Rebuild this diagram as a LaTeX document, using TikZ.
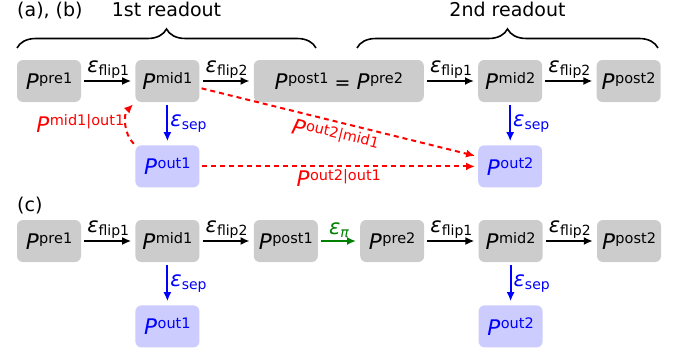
\documentclass[tikz,border=0pt]{standalone}
\usepackage{fontspec}
\setmainfont{DejaVu Sans}
\usetikzlibrary{positioning, arrows.meta, decorations.pathreplacing}
\definecolor{boxgray}{RGB}{204,204,204}
\definecolor{outblue}{RGB}{204,204,255}
\definecolor{pigreen}{RGB}{0,128,0}
\newcommand{\Pst}[1]{{\fontsize{21.5}{24}\selectfont\textit{P}}\kern0.5pt\raisebox{6.5pt}{\fontsize{14.5}{15}\selectfont #1}}
\newcommand{\Eps}[1]{{\fontsize{21}{24}\selectfont\textit{ε}}\raisebox{-3pt}{\fontsize{14}{15}\selectfont #1}}

\tikzset{
  state/.style={rectangle, rounded corners=6pt, fill=boxgray, minimum width=64pt, minimum height=42pt, inner sep=0pt},
  outstate/.style={state, fill=outblue, text=blue},
  flow/.style={-{Latex[length=9pt, width=8pt]}, line width=2pt, shorten <=3pt, shorten >=4pt},
  sepflow/.style={flow, blue},
  cond/.style={-{Latex[length=9pt, width=8pt]}, red, line width=2pt, dash pattern=on 5pt off 4pt, shorten <=2pt, shorten >=3pt},
  readout/.style={decorate, decoration={brace, amplitude=19pt}, line width=1.6pt},
  arrlabel/.style={above, inner sep=2pt},
}

\begin{document}
\begin{tikzpicture}[x=1pt, y=1pt, node distance=54pt,
  every node/.style={font=\fontsize{19}{22}\selectfont}]
\useasboundingbox (0,0) rectangle (693,349);

% (a), (b): two readouts
\node[anchor=base west, inner sep=0pt] (labab) at (17,332) {(a), (b)};
\node[anchor=base, inner sep=0pt] (first) at (166.5,332) {1st readout};
\node[anchor=base, inner sep=0pt] (second) at (507.5,332) {2nd readout};
\draw[readout] (17,301) -- (316,301);
\draw[readout] (357,301) -- (658,301);

\node[state] (pre1) at (49,268) {\Pst{pre1}};
\node[state, right=of pre1] (mid1) {\Pst{mid1}};
\node[state, right=of mid1, minimum width=170pt] (post1) {\Pst{post1} = \Pst{pre2}};
\node[state, right=of post1] (mid2) {\Pst{mid2}};
\node[state, right=of mid2] (post2) {\Pst{post2}};
\node[outstate, below=43pt of mid1] (out1) {\Pst{out1}};
\node[outstate, below=43pt of mid2] (out2) {\Pst{out2}};

\draw[flow] (pre1) -- node[arrlabel]{\Eps{flip1}} (mid1);
\draw[flow] (mid1) -- node[arrlabel]{\Eps{flip2}} (post1);
\draw[flow] (post1) -- node[arrlabel]{\Eps{flip1}} (mid2);
\draw[flow] (mid2) -- node[arrlabel]{\Eps{flip2}} (post2);
\draw[sepflow] (mid1) -- node[right, inner sep=2pt]{\Eps{sep}} (out1);
\draw[sepflow] (mid2) -- node[right, inner sep=2pt]{\Eps{sep}} (out2);

\draw[cond] (out1.north west) to[bend left=45] node[left, inner sep=1pt]{\Pst{mid1|out1}} (mid1.south west);
\draw[cond] (mid1.-12) -- node[sloped, below, inner sep=4pt]{\Pst{out2|mid1}} (out2.163);
\draw[cond] (out1) -- node[below, inner sep=2pt]{\Pst{out2|out1}} (out2);

% (c): pi pulse between readouts
\node[anchor=base west, inner sep=0pt] (labc) at (17,138) {(c)};
\node[state] (cpre1) at (49,108) {\Pst{pre1}};
\node[state, right=of cpre1] (cmid1) {\Pst{mid1}};
\node[state, right=of cmid1] (cpost1) {\Pst{post1}};
\node[state, right=42pt of cpost1] (cpre2) {\Pst{pre2}};
\node[state, right=of cpre2] (cmid2) {\Pst{mid2}};
\node[state, right=of cmid2] (cpost2) {\Pst{post2}};
\node[outstate, below=43pt of cmid1] (cout1) {\Pst{out1}};
\node[outstate, below=43pt of cmid2] (cout2) {\Pst{out2}};

\draw[flow] (cpre1) -- node[arrlabel]{\Eps{flip1}} (cmid1);
\draw[flow] (cmid1) -- node[arrlabel]{\Eps{flip2}} (cpost1);
\draw[flow, pigreen] (cpost1) -- node[arrlabel]{\Eps{\textit{π}}} (cpre2);
\draw[flow] (cpre2) -- node[arrlabel]{\Eps{flip1}} (cmid2);
\draw[flow] (cmid2) -- node[arrlabel]{\Eps{flip2}} (cpost2);
\draw[sepflow] (cmid1) -- node[right, inner sep=2pt]{\Eps{sep}} (cout1);
\draw[sepflow] (cmid2) -- node[right, inner sep=2pt]{\Eps{sep}} (cout2);

\end{tikzpicture}
\end{document}
